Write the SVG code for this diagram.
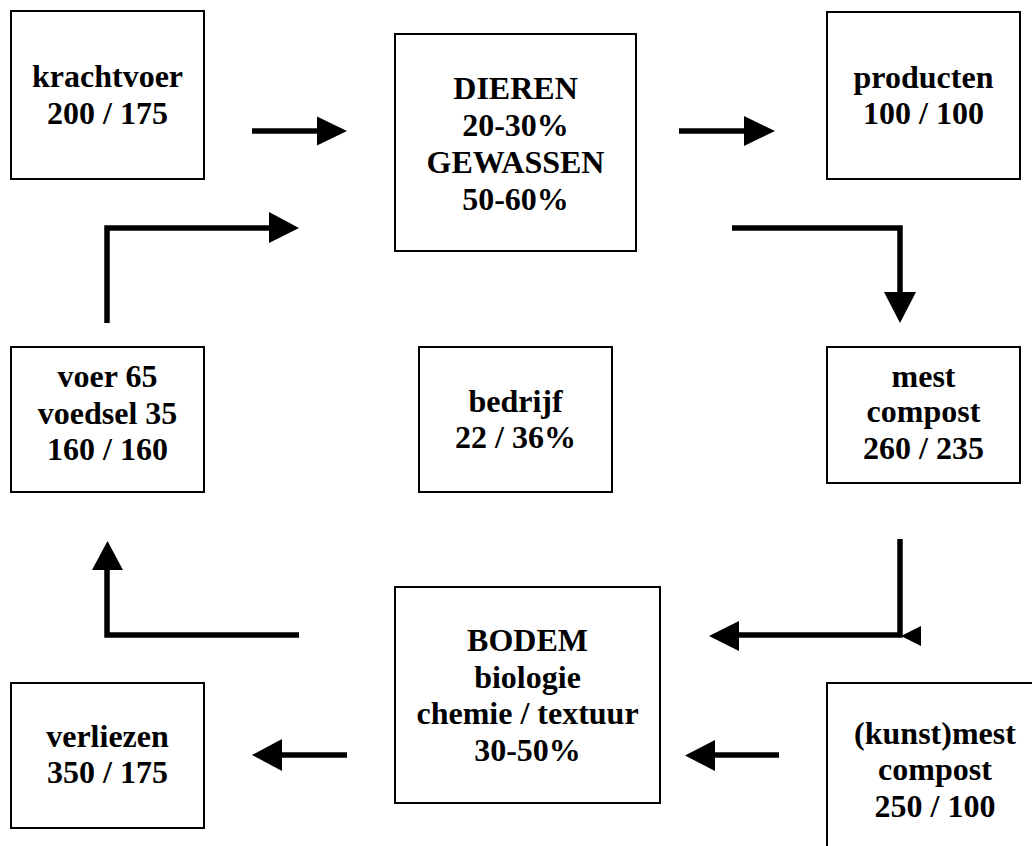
<svg xmlns="http://www.w3.org/2000/svg" width="1032" height="846" viewBox="0 0 1032 846">
<style>
.box{fill:#fff;stroke:#000;stroke-width:2}
.t{font-family:"Liberation Serif","Times New Roman",serif;font-weight:bold;font-size:32px;text-anchor:middle;fill:#000}
.ln{fill:none;stroke:#000;stroke-width:5.5}
.hd{fill:#000;stroke:none}
</style>
<rect width="1032" height="846" fill="#fff"/>
<g id="krachtvoer">
<rect class="box" x="11" y="11" width="193" height="168"/>
<text class="t" x="107.5" y="87">krachtvoer</text>
<text class="t" x="107.5" y="124">200 / 175</text>
</g>
<g id="dieren">
<rect class="box" x="395" y="34" width="241" height="217"/>
<text class="t" x="515.5" y="99">DIEREN</text>
<text class="t" x="515.5" y="136">20-30%</text>
<text class="t" x="515.5" y="173">GEWASSEN</text>
<text class="t" x="515.5" y="210">50-60%</text>
</g>
<g id="producten">
<rect class="box" x="827" y="12" width="193" height="167"/>
<text class="t" x="923.5" y="88">producten</text>
<text class="t" x="923.5" y="124">100 / 100</text>
</g>
<g id="voer">
<rect class="box" x="11" y="347" width="193" height="145"/>
<text class="t" x="107.5" y="387">voer 65</text>
<text class="t" x="107.5" y="424">voedsel 35</text>
<text class="t" x="107.5" y="460">160 / 160</text>
</g>
<g id="bedrijf">
<rect class="box" x="419" y="347" width="193" height="145"/>
<text class="t" x="515.5" y="412">bedrijf</text>
<text class="t" x="515.5" y="448">22 / 36%</text>
</g>
<g id="mest">
<rect class="box" x="827" y="347" width="193" height="136"/>
<text class="t" x="923.5" y="387">mest</text>
<text class="t" x="923.5" y="422">compost</text>
<text class="t" x="923.5" y="459">260 / 235</text>
</g>
<g id="bodem">
<rect class="box" x="395" y="587" width="265" height="216"/>
<text class="t" x="527.5" y="651">BODEM</text>
<text class="t" x="527.5" y="688">biologie</text>
<text class="t" x="527.5" y="724">chemie / textuur</text>
<text class="t" x="527.5" y="761">30-50%</text>
</g>
<g id="verliezen">
<rect class="box" x="11" y="683" width="193" height="145"/>
<text class="t" x="107.5" y="747">verliezen</text>
<text class="t" x="107.5" y="783">350 / 175</text>
</g>
<g id="kunstmest">
<rect class="box" x="827" y="683" width="216" height="180"/>
<text class="t" x="935" y="744">(kunst)mest</text>
<text class="t" x="935" y="780">compost</text>
<text class="t" x="935" y="817">250 / 100</text>
</g>
<g id="connectors">
<line class="ln" x1="252" y1="131" x2="320" y2="131"/>
<polygon class="hd" points="317,116.5 347,131 317,145.5"/>
<line class="ln" x1="679" y1="131" x2="747" y2="131"/>
<polygon class="hd" points="744,116 775,131 744,146"/>
<polyline class="ln" points="732,228 900,228 900,295"/>
<polygon class="hd" points="884,292 916,292 900,323"/>
<polyline class="ln" points="107,323 107,228 272,228"/>
<polygon class="hd" points="269,212 299,228 269,243"/>
<polyline class="ln" points="299,635 107,635 107,567"/>
<polygon class="hd" points="92,570 123,570 107.5,541"/>
<polyline class="ln" points="900,539 900,635 736,635"/>
<polygon class="hd" points="739,621 739,651 709,636"/>
<polygon class="hd" points="901,636 921,626 921,646"/>
<line class="ln" x1="779" y1="755" x2="712" y2="755"/>
<polygon class="hd" points="715,740 715,771 685,755.5"/>
<line class="ln" x1="347" y1="755" x2="279" y2="755"/>
<polygon class="hd" points="282,739 282,771 252,755"/>
</g>
</svg>
